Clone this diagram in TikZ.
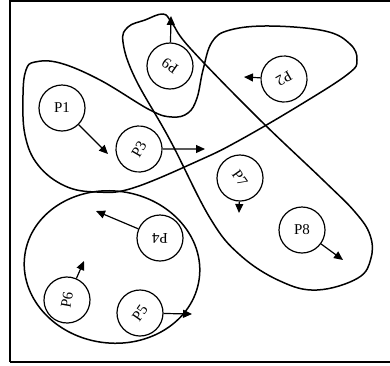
\documentclass[tikz,border=0pt]{standalone}
\usepackage{fontspec}
\setmainfont{Liberation Serif}
\usetikzlibrary{arrows.meta}
\begin{document}
\begin{tikzpicture}[x=1pt,y=-1pt,
  proc/.style={draw,circle,line width=1.2pt,minimum size=46pt,inner sep=0pt,font=\fontsize{15}{15}\selectfont},
  blob/.style={line width=1.5pt},
  arr/.style={line width=1.2pt,-{Triangle[length=9pt,width=8pt]}},
  frame/.style={line width=1.4pt}]
\useasboundingbox (0,0) rectangle (390,365);
% frame
\coordinate (f1) at (390,1);
\coordinate (f2) at (10,1);
\coordinate (f3) at (10,362);
\coordinate (f4) at (390,362);
\draw[frame] (f1) -- (f2) -- (f3);
\draw[line width=2.6pt] (f3) -- (f4);
% blobs
\draw[blob] plot[smooth cycle,tension=0.65] coordinates {
 (35,62) (60,63) (100,80) (150,110) (172,117) (188,113)
 (197,98) (203,70) (212,42) (230,30) (270,26) (325,31) (350,44)
 (357,60) (348,74) (300,105) (240,140) (200,160)
 (133,188) (97,192) (65,186) (38,165) (25,135) (23,95) (26,70)};
\draw[blob] plot[smooth cycle,tension=0.65] coordinates {
 (123,42) (128,27) (145,20) (163,14) (172,23) (190,48)
 (257,117) (323,180) (355,212) (370,235) (371,258)
 (358,278) (317,290) (280,281) (240,255) (210,218)
 (170,140) (135,78)};
\coordinate (c3) at (112,267);
\draw[blob,rotate around={-8:(c3)}] (c3) ellipse [x radius=88pt, y radius=76pt];
% processes
\node[proc] (P1) at (62,108) {P1};
\node[proc,rotate=60] (P3) at (139,149) {P3};
\node[proc,rotate=145] (P9) at (170,66) {P9};
\node[proc,rotate=210] (P2) at (284,79) {P2};
\node[proc,rotate=-55] (P7) at (240,178) {P7};
\node[proc] (P8) at (302,230) {P8};
\node[proc,rotate=180] (P4) at (160,238) {P4};
\node[proc,rotate=80] (P6) at (67,300) {P6};
\node[proc,rotate=55] (P5) at (140,313) {P5};
% arrow ends
\coordinate (a1) at (108,154);
\coordinate (a3) at (205,149);
\coordinate (a9) at (171,16);
\coordinate (a2) at (244,77);
\coordinate (a7) at (239,213);
\coordinate (a8) at (343,260);
\coordinate (a4) at (96,211);
\coordinate (a6) at (84,261);
\coordinate (a5) at (192,314);
\draw[arr] (P1) -- (a1);
\draw[arr] (P3) -- (a3);
\draw[arr] (P9) -- (a9);
\draw[arr] (P2) -- (a2);
\draw[arr] (P7) -- (a7);
\draw[arr] (P8) -- (a8);
\draw[arr] (P4) -- (a4);
\draw[arr] (P6) -- (a6);
\draw[arr] (P5) -- (a5);
\end{tikzpicture}
\end{document}
